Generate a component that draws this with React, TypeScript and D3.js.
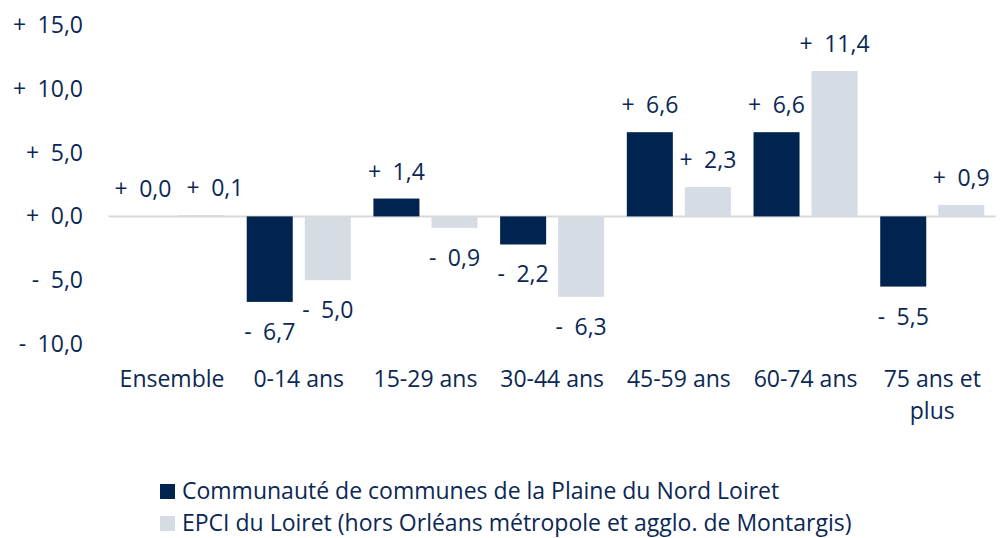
import React from 'react'
import * as d3 from 'd3'

const W = 1003
const H = 538

const categories = ['Ensemble', '0-14 ans', '15-29 ans', '30-44 ans', '45-59 ans', '60-74 ans', '75 ans et plus']
const categoryLines = [['Ensemble'], ['0-14 ans'], ['15-29 ans'], ['30-44 ans'], ['45-59 ans'], ['60-74 ans'], ['75 ans et', 'plus']]
const ccpnlValues = [0.0, -6.7, 1.4, -2.2, 6.6, 6.6, -5.5]
const epciValues = [0.1, -5.0, -0.9, -6.3, 2.3, 11.4, 0.9]
const seriesNames = [
  'Communauté de communes de la Plaine du Nord Loiret',
  'EPCI du Loiret (hors Orléans métropole et agglo. de Montargis)',
]
const yTicks = [-10, -5, 0, 5, 10, 15]

const COLORS = ['#002350', '#d6dce4']
const TEXT = '#0b2854'
const FONT = '"Open Sans", "Noto Sans", sans-serif'
const FS = 23

// "+ 15,0" style, like the Excel number format
const fmt = (v: number) => {
  const sign = v >= 0 ? '+' : '-'
  return `${sign}\u2002${Math.abs(v).toFixed(1).replace('.', ',')}`
}

const LABEL_W = 58 // rough width of a "+ 0,0" label

export default function App() {
  const x0 = d3.scaleBand<string>().domain(categories).range([108.7, 995.6])
  const x1 = d3.scaleBand<string>()
    .domain(seriesNames)
    .range([0, x0.bandwidth()])
    .paddingInner(0.207)
    .paddingOuter(0.195)
  const y = d3.scaleLinear().domain([-10, 15]).range([344, 25])

  const series = [ccpnlValues, epciValues]

  // value labels, pushed right when two of them sit on the same line
  const labels: { x: number; y: number; text: string }[] = []
  categories.forEach((c, i) => {
    series.forEach((vals, s) => {
      const v = vals[i]
      const cx = x0(c)! + x1(seriesNames[s])! + x1.bandwidth() / 2
      const ly = v >= 0 ? y(v) - 19 : y(v) + 38
      const prev = labels[labels.length - 1]
      let lx = cx
      if (s === 1 && prev && Math.abs(prev.y - ly) < 12 && lx - prev.x < LABEL_W + 14) {
        lx = prev.x + LABEL_W + 14
      }
      labels.push({ x: lx, y: ly, text: fmt(v) })
    })
  })

  return (
    <svg
      width={W}
      height={H}
      style={{ position: 'absolute', left: 0, top: 0, background: '#fff' }}
      fontFamily={FONT}
      fontSize={FS}
      fill={TEXT}
    >
      {/* y axis labels */}
      {yTicks.map(t => (
        <text key={t} x={83} y={y(t)} dy="0.35em" textAnchor="end">{fmt(t)}</text>
      ))}

      {/* zero line */}
      <line x1={x0.range()[0]} x2={x0.range()[1]} y1={y(0)} y2={y(0)} stroke="#d9d9d9" strokeWidth={2} />

      {/* bars */}
      {categories.map((c, i) => (
        <g key={c} transform={`translate(${x0(c)},0)`}>
          {series.map((vals, s) => {
            const v = vals[i]
            return (
              <rect
                key={s}
                x={x1(seriesNames[s])}
                y={Math.min(y(v), y(0))}
                width={x1.bandwidth()}
                height={Math.abs(y(v) - y(0))}
                fill={COLORS[s]}
              />
            )
          })}
        </g>
      ))}

      {labels.map((l, k) => (
        <text key={k} x={l.x} y={l.y} textAnchor="middle">{l.text}</text>
      ))}

      {/* category labels */}
      {categories.map((c, i) => (
        <text key={c} x={x0(c)! + x0.bandwidth() / 2} y={387} textAnchor="middle">
          {categoryLines[i].map((l, k) => (
            <tspan key={k} x={x0(c)! + x0.bandwidth() / 2} dy={k === 0 ? 0 : 32}>{l}</tspan>
          ))}
        </text>
      ))}

      {/* legend */}
      {seriesNames.map((n, s) => (
        <g key={n} transform={`translate(160,${484 + s * 32})`}>
          <rect width={15} height={15} fill={COLORS[s]} />
          <text x={22} y={15}>{n}</text>
        </g>
      ))}
    </svg>
  )
}
